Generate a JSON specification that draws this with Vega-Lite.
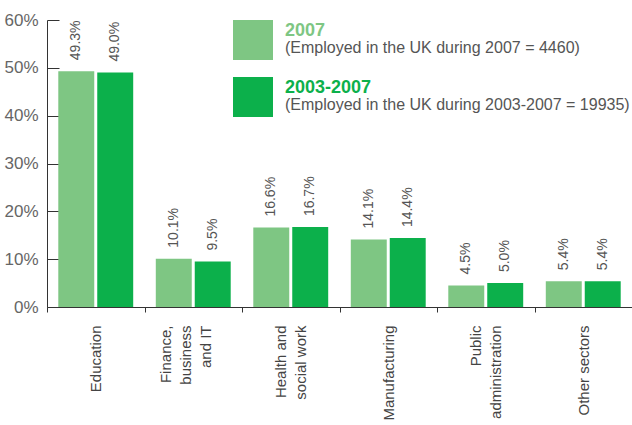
{
  "$schema": "https://vega.github.io/schema/vega-lite/v6.json",
  "width": 585,
  "height": 287,
  "autosize": {"type": "none"},
  "padding": {"left": 47, "top": 20, "right": 0, "bottom": 118},
  "background": "white",
  "config": {
    "view": {"stroke": null},
    "font": "Liberation Sans",
    "axis": {"grid": false, "domainColor": "#333", "tickColor": "#333", "labelColor": "#555", "labelFont": "Liberation Sans"}
  },
  "data": {
    "values": [
      {"sector": "Education", "series": "2007", "value": 0.493, "desc": "(Employed in the UK during 2007 = 4460)"},
      {"sector": "Education", "series": "2003-2007", "value": 0.490, "desc": "(Employed in the UK during 2003-2007 = 19935)"},
      {"sector": "Finance, business and IT", "series": "2007", "value": 0.101, "desc": "(Employed in the UK during 2007 = 4460)"},
      {"sector": "Finance, business and IT", "series": "2003-2007", "value": 0.095, "desc": "(Employed in the UK during 2003-2007 = 19935)"},
      {"sector": "Health and social work", "series": "2007", "value": 0.166, "desc": "(Employed in the UK during 2007 = 4460)"},
      {"sector": "Health and social work", "series": "2003-2007", "value": 0.167, "desc": "(Employed in the UK during 2003-2007 = 19935)"},
      {"sector": "Manufacturing", "series": "2007", "value": 0.141, "desc": "(Employed in the UK during 2007 = 4460)"},
      {"sector": "Manufacturing", "series": "2003-2007", "value": 0.144, "desc": "(Employed in the UK during 2003-2007 = 19935)"},
      {"sector": "Public administration", "series": "2007", "value": 0.045, "desc": "(Employed in the UK during 2007 = 4460)"},
      {"sector": "Public administration", "series": "2003-2007", "value": 0.050, "desc": "(Employed in the UK during 2003-2007 = 19935)"},
      {"sector": "Other sectors", "series": "2007", "value": 0.054, "desc": "(Employed in the UK during 2007 = 4460)"},
      {"sector": "Other sectors", "series": "2003-2007", "value": 0.054, "desc": "(Employed in the UK during 2003-2007 = 19935)"}
    ]
  },
  "encoding": {
    "x": {
      "field": "sector", "type": "nominal", "sort": null,
      "scale": {"paddingInner": 0, "paddingOuter": 0},
      "axis": {
        "title": null, "labelAngle": -90, "labelAlign": "right", "labelBaseline": "middle",
        "tickBand": "extent", "tickSize": 5, "labelPadding": 13, "labelFontSize": 15, "labelLineHeight": 20,
        "labelColor": "#444", "labelLimit": 300,
        "labelExpr": "datum.value == 'Finance, business and IT' ? ['Finance,', 'business', 'and IT'] : datum.value == 'Health and social work' ? ['Health and', 'social work'] : datum.value == 'Public administration' ? ['Public', 'administration'] : datum.value",
        "labelOffset": {"condition": [
          {"test": "datum.value == 'Finance, business and IT'", "value": -28},
          {"test": "datum.value == 'Health and social work' || datum.value == 'Public administration'", "value": -10}
        ], "value": 0}
      }
    },
    "xOffset": {
      "field": "series", "type": "nominal", "sort": ["2007", "2003-2007"],
      "scale": {"paddingInner": 0.077, "paddingOuter": 0.29}
    },
    "y": {
      "field": "value", "type": "quantitative",
      "scale": {"domain": [0, 0.6], "nice": false},
      "axis": {"title": null, "format": ".0%", "values": [0, 0.1, 0.2, 0.3, 0.4, 0.5, 0.6], "tickSize": -12, "labelPadding": 21, "labelFontSize": 17, "labelColor": "#666"}
    }
  },
  "layer": [
    {
      "mark": {"type": "bar"},
      "encoding": {
        "color": {
          "field": "series", "type": "nominal",
          "scale": {"domain": ["2007", "2003-2007"], "range": ["#7ec683", "#0cb04b"]},
          "legend": {
            "title": null, "orient": "none", "legendX": 186, "legendY": 0, "padding": 0,
            "symbolType": "square", "symbolSize": 1600, "symbolStrokeWidth": 0, "rowPadding": 17,
            "labelFontSize": 18, "labelFontWeight": "bold", "labelOffset": 12, "labelFont": "Liberation Sans",
            "labelBaseline": "bottom", "labelLimit": 400,
            "encode": {"labels": {"update": {"fill": {"scale": "color", "field": "value"}}}}
          }
        },
        "opacity": {
          "field": "desc", "type": "ordinal",
          "scale": {"domain": ["(Employed in the UK during 2007 = 4460)", "(Employed in the UK during 2003-2007 = 19935)"], "range": [1, 1]},
          "legend": {
            "title": null, "orient": "none", "legendX": 186, "legendY": 0, "padding": 0,
            "symbolType": "square", "symbolSize": 1600, "symbolStrokeWidth": 0, "rowPadding": 17,
            "symbolFillColor": "transparent", "symbolOpacity": 0,
            "labelFontSize": 16, "labelOffset": 12, "labelColor": "#555", "labelFont": "Liberation Sans",
            "labelBaseline": "top", "labelLimit": 400
          }
        }
      }
    },
    {
      "mark": {"type": "text", "angle": 270, "align": "left", "baseline": "middle", "dx": 11, "fontSize": 14, "color": "#555"},
      "encoding": {
        "text": {"field": "value", "type": "quantitative", "format": ".1%"}
      }
    }
  ]
}
